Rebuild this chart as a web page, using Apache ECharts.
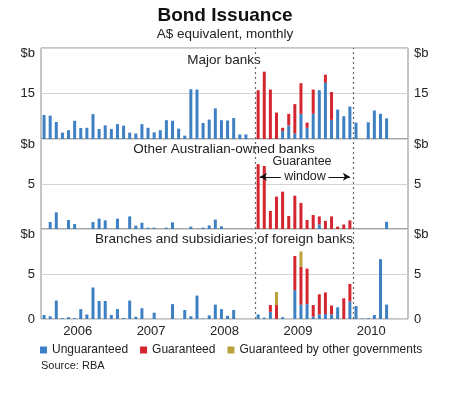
<!DOCTYPE html>
<html>
<head>
<meta charset="utf-8">
<script src="https://cdn.jsdelivr.net/npm/echarts@6/dist/echarts.min.js"></script>
<style>html,body{margin:0;padding:0;background:#fff}#c{width:470px;height:393px}</style>
</head>
<body>
<div id="c"></div>
<script>
// ---- data (monthly, Jan 2006 .. Dec 2010), $b ----
const years = ['2006', '2007', '2008', '2009', '2010'];
const months = [];
years.forEach(y => { for (let m = 1; m <= 12; m++) months.push(y + '-' + m); });

const majorUnguaranteed = [
  7.9, 7.7, 5.6, 2.1, 2.9, 6.0, 3.6, 3.7, 8.2, 3.3, 4.5, 3.3,
  4.9, 4.4, 2.1, 1.8, 4.9, 3.7, 2.2, 2.9, 6.2, 6.0, 3.4, 1.1,
  16.4, 16.3, 5.3, 6.4, 10.1, 6.2, 6.1, 6.9, 1.5, 1.5, 0, 0,
  0, 0, 0, 2.6, 4.5, 1.8, 8.3, 3.7, 8.3, 16.1, 18.5, 6.3,
  9.7, 7.5, 10.7, 5.4, 0, 5.5, 9.4, 8.3, 6.8, 0, 0, 0
];
const majorGuaranteed = [
  0, 0, 0, 0, 0, 0, 0, 0, 0, 0, 0, 0,
  0, 0, 0, 0, 0, 0, 0, 0, 0, 0, 0, 0,
  0, 0, 0, 0, 0, 0, 0, 0, 0, 0, 0, 16.1,
  22.2, 16.3, 8.7, 1.1, 3.8, 9.7, 10.1, 1.7, 8.0, 0, 2.7, 9.2,
  0, 0, 0, 0, 0, 0, 0, 0, 0, 0, 0, 0
];
const otherUnguaranteed = [
  0, 0.78, 1.85, 0, 1.0, 0.55, 0, 0, 0.78, 1.15, 0.96, 0,
  1.15, 0, 1.4, 0.37, 0.7, 0.15, 0.15, 0, 0.15, 0.74, 0, 0,
  0.26, 0, 0.15, 0.4, 1.05, 0.3, 0, 0, 0, 0, 0, 0,
  0, 0, 0, 0, 0, 0, 0, 0, 0, 0.5, 0, 0,
  0, 0, 0, 0, 0, 0, 0, 0, 0.8, 0, 0, 0
];
const otherGuaranteed = [
  0, 0, 0, 0, 0, 0, 0, 0, 0, 0, 0, 0,
  0, 0, 0, 0, 0, 0, 0, 0, 0, 0, 0, 0,
  0, 0, 0, 0, 0, 0, 0, 0, 0, 0, 0, 7.2,
  7.0, 2.0, 3.6, 4.15, 1.45, 3.7, 2.9, 1.0, 1.55, 0.9, 0.9, 1.4,
  0.26, 0.5, 0.96, 0, 0, 0, 0, 0, 0, 0, 0, 0
];
const foreignUnguaranteed = [
  0.45, 0.3, 2.05, 0.1, 0.2, 0.1, 1.1, 0.5, 3.5, 2.0, 2.0, 0.45,
  1.1, 0.1, 2.05, 0.25, 1.2, 0, 0.7, 0, 0, 1.65, 0, 1.0,
  0.3, 2.6, 0.05, 0.4, 1.6, 1.1, 0.35, 1.0, 0, 0, 0, 0.5,
  0.15, 0.8, 0, 0.2, 0, 3.2, 1.6, 1.65, 0.25, 0.5, 0.55, 0.5,
  1.3, 0, 1.95, 1.45, 0.05, 0.1, 0.45, 6.65, 1.6, 0, 0, 0
];
const foreignGuaranteed = [
  0, 0, 0, 0, 0, 0, 0, 0, 0, 0, 0, 0,
  0, 0, 0, 0, 0, 0, 0, 0, 0, 0, 0, 0,
  0, 0, 0, 0, 0, 0, 0, 0, 0, 0, 0, 0,
  0, 0.75, 1.55, 0, 0, 3.8, 4.2, 3.95, 1.3, 2.25, 2.4, 1.0,
  0, 2.3, 1.95, 0, 0, 0, 0, 0, 0, 0, 0, 0
];
const foreignOtherGov = [
  0, 0, 0, 0, 0, 0, 0, 0, 0, 0, 0, 0,
  0, 0, 0, 0, 0, 0, 0, 0, 0, 0, 0, 0,
  0, 0, 0, 0, 0, 0, 0, 0, 0, 0, 0, 0,
  0, 0, 1.45, 0, 0, 0, 1.7, 0, 0, 0, 0, 0,
  0, 0, 0, 0, 0, 0, 0, 0, 0, 0, 0, 0
];
// guarantee window boundaries, in months from Jan 2006
const guaranteeWindow = [35.1, 51.1];

const panelMax = [30, 10, 10];
const panelInterval = [15, 5, 5];
const tickLabelsTop = ['', '15', '$b'];
const tickLabelsMid = ['', '5', '$b'];
const tickLabelsBot = ['0', '5', '$b'];
const panelTickLabels = [tickLabelsTop, tickLabelsMid, tickLabelsBot];
const panelTitles = ['Major banks', 'Other Australian-owned banks', 'Branches and subsidiaries of foreign banks'];

const BLUE = '#3d80c4', RED = '#d3262f', OLIVE = '#bba23c';
const FONT = 'Liberation Sans, Arial, sans-serif';
const TXT = '#222';

const gridTops = [48, 139, 229];
const gridHeights = [91, 90, 90];

const grids = gridTops.map((t, i) => ({
  left: 41, right: 62, top: t, height: gridHeights[i],
  show: true, borderColor: '#8a8a8a', borderWidth: 1, backgroundColor: 'rgba(0,0,0,0)'
}));

const xAxes = [];
for (let i = 0; i < 3; i++) {
  xAxes.push({ type: 'category', gridIndex: i, data: months, position: 'top', show: false });
}
for (let i = 0; i < 3; i++) {
  xAxes.push({
    type: 'value', gridIndex: i, min: 0, max: 60, interval: 6, position: 'bottom',
    show: i === 2,
    axisLine: { show: false }, axisTick: { show: false }, splitLine: { show: false },
    axisLabel: {
      show: true, margin: 6, fontSize: 13, color: TXT, fontFamily: FONT,
      showMinLabel: true, showMaxLabel: true,
      formatter: v => (v % 12 === 6 ? years[(v - 6) / 12] : '')
    }
  });
}

function yLabel(i) {
  return {
    fontSize: 13, color: TXT, fontFamily: FONT, margin: 6,
    formatter: v => {
      const s = panelTickLabels[i][Math.round(v / panelInterval[i])] || '';
      return s === '$b' ? '{b|$b}' : s;
    },
    rich: { b: { fontSize: 13, color: TXT, fontFamily: FONT, padding: [11, 0, 0, 0] } }
  };
}
const yAxes = [];
for (let i = 0; i < 3; i++) {
  yAxes.push({
    type: 'value', gridIndex: i, min: 0, max: panelMax[i], interval: panelInterval[i], position: 'left',
    axisLine: { show: false }, axisTick: { show: false },
    splitLine: { show: true, lineStyle: { color: '#d4d4d4', width: 1 } },
    axisLabel: yLabel(i)
  });
  yAxes.push({
    type: 'value', gridIndex: i, min: 0, max: panelMax[i], interval: panelInterval[i], position: 'right',
    axisLine: { show: false }, axisTick: { show: false }, splitLine: { show: false },
    axisLabel: yLabel(i)
  });
}

const barBase = { type: 'bar', barWidth: 3, animation: false };
function bar(name, data, i, color) {
  return Object.assign({}, barBase, {
    name, data, xAxisIndex: i, yAxisIndex: i * 2, stack: 'p' + i,
    itemStyle: { color }
  });
}

const series = [
  bar('Unguaranteed', majorUnguaranteed, 0, BLUE),
  bar('Guaranteed', majorGuaranteed, 0, RED),
  bar('Unguaranteed', otherUnguaranteed, 1, BLUE),
  bar('Guaranteed', otherGuaranteed, 1, RED),
  bar('Unguaranteed', foreignUnguaranteed, 2, BLUE),
  bar('Guaranteed', foreignGuaranteed, 2, RED),
  bar('Guaranteed by other governments', foreignOtherGov, 2, OLIVE)
];
for (let i = 0; i < 3; i++) {
  series.push({
    type: 'line', name: 'window' + i, data: [], xAxisIndex: 3 + i, yAxisIndex: i * 2,
    animation: false, silent: true,
    markLine: {
      silent: true, symbol: ['none', 'none'], animation: false,
      label: { show: false },
      lineStyle: { color: '#666', width: 1.2, type: [2, 3] },
      data: guaranteeWindow.map(x => ({ xAxis: x }))
    }
  });
}
// arrows for "Guarantee window"
series.push({
  type: 'line', name: 'arrows', data: [], xAxisIndex: 4, yAxisIndex: 2,
  animation: false, silent: true,
  markLine: {
    silent: true, symbol: ['none', 'arrow'], symbolSize: [6, 7], animation: false,
    label: { show: false },
    lineStyle: { color: '#111', width: 1, type: 'solid' },
    data: [
      [{ coord: [39.2, 5.8] }, { coord: [35.8, 5.8] }],
      [{ coord: [47.0, 5.8] }, { coord: [50.5, 5.8] }]
    ]
  }
});

const graphic = [
  { type: 'text', x: 225, y: 16, style: { text: 'Bond Issuance', font: 'bold 19px ' + FONT, fill: '#111', textAlign: 'center', textVerticalAlign: 'middle' } },
  { type: 'text', x: 225, y: 34, style: { text: 'A$ equivalent, monthly', font: '13.5px ' + FONT, fill: TXT, textAlign: 'center', textVerticalAlign: 'middle' } },
  { type: 'text', x: 224, y: 60, style: { text: panelTitles[0], font: '13.5px ' + FONT, fill: TXT, textAlign: 'center', textVerticalAlign: 'middle' } },
  { type: 'text', x: 224, y: 149, style: { text: panelTitles[1], font: '13.5px ' + FONT, fill: TXT, textAlign: 'center', textVerticalAlign: 'middle' } },
  { type: 'text', x: 224, y: 239, style: { text: panelTitles[2], font: '13.5px ' + FONT, fill: TXT, textAlign: 'center', textVerticalAlign: 'middle' } },
  { type: 'text', x: 302, y: 162, style: { text: 'Guarantee', font: '12.5px ' + FONT, fill: TXT, textAlign: 'center', textVerticalAlign: 'middle' } },
  { type: 'text', x: 305, y: 177, style: { text: 'window', font: '12.5px ' + FONT, fill: TXT, textAlign: 'center', textVerticalAlign: 'middle' } },
  { type: 'text', x: 41, y: 366, style: { text: 'Source: RBA', font: '11px ' + FONT, fill: TXT, textAlign: 'left', textVerticalAlign: 'middle' } }
];

const chart = echarts.init(document.getElementById('c'), null, { renderer: 'canvas' });
chart.setOption({
  animation: false,
  backgroundColor: '#fff',
  textStyle: { fontFamily: FONT },
  grid: grids,
  xAxis: xAxes,
  yAxis: yAxes,
  legend: {
    left: 40, top: 344, padding: 0, itemWidth: 7, itemHeight: 7, itemGap: 12, icon: 'rect',
    textStyle: { fontSize: 12, color: TXT, fontFamily: FONT },
    data: ['Unguaranteed', 'Guaranteed', 'Guaranteed by other governments']
  },
  series,
  graphic
});
</script>
</body>
</html>
